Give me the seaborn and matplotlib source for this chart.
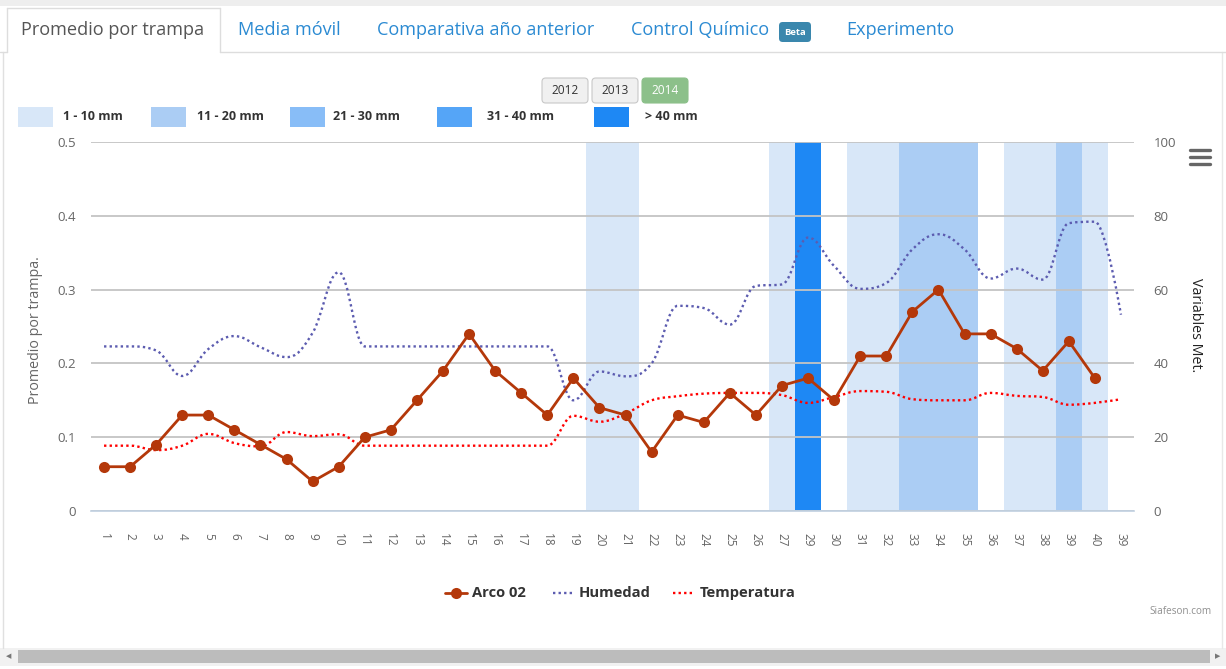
import numpy as np
import pandas as pd
import matplotlib
matplotlib.use("Agg")
import matplotlib.pyplot as plt
import seaborn as sns
from matplotlib.path import Path
from matplotlib.patches import PathPatch, Rectangle, FancyBboxPatch
from matplotlib.lines import Line2D

# ---------------- data ----------------
semanas = [str(i) for i in range(1, 28)] + [str(i) for i in range(29, 41)] + ["39"]

arco02 = [0.06, 0.06, 0.09, 0.13, 0.13, 0.11, 0.09, 0.07, 0.04, 0.06,
          0.10, 0.11, 0.15, 0.19, 0.24, 0.19, 0.16, 0.13, 0.18, 0.14,
          0.13, 0.08, 0.13, 0.12, 0.16, 0.13, 0.17, 0.18, 0.15, 0.21,
          0.21, 0.27, 0.30, 0.24, 0.24, 0.22, 0.19, 0.23, 0.18, np.nan]

humedad = [44.6, 44.6, 43.5, 36.6, 43.9, 47.4, 44.4, 41.7, 48.3, 64.7,
           44.6, 44.6, 44.6, 44.6, 44.6, 44.6, 44.6, 44.6, 30.0, 37.8,
           36.5, 40.0, 55.6, 55.0, 50.5, 61.0, 61.4, 74.1, 66.4, 60.2,
           61.8, 70.9, 75.0, 70.9, 63.0, 65.7, 62.7, 78.0, 78.4, 53.2]

temperatura = [17.7, 17.7, 16.5, 17.7, 20.9, 18.4, 17.5, 21.4, 20.3, 20.8,
               17.7, 17.7, 17.7, 17.7, 17.7, 17.7, 17.7, 17.7, 25.8, 24.2,
               26.4, 30.0, 31.1, 31.8, 32.0, 32.0, 31.4, 29.3, 30.9, 32.5,
               32.3, 30.3, 30.0, 30.0, 32.0, 31.2, 30.9, 28.8, 29.3, 30.3]

rangos_lluvia = ["1 - 10 mm", "11 - 20 mm", "21 - 30 mm", "31 - 40 mm", "> 40 mm"]
colores_lluvia = ["#d8e7f8", "#abcdf4", "#88bdf7", "#55a5f7", "#1e88f4"]
# rain class per week ('' = no rain)
lluvia = ["", "", "", "", "", "", "", "", "", "",
          "", "", "", "", "", "", "", "", "", "1 - 10 mm",
          "1 - 10 mm", "", "", "", "", "", "1 - 10 mm", "> 40 mm", "", "1 - 10 mm",
          "1 - 10 mm", "11 - 20 mm", "11 - 20 mm", "11 - 20 mm", "", "1 - 10 mm", "1 - 10 mm", "11 - 20 mm", "1 - 10 mm", ""]

anios = ["2012", "2013", "2014"]
pestanas = ["Promedio por trampa", "Media móvil", "Comparativa año anterior", "Control Químico", "Experimento"]

# ---------------- style ----------------
sns.set_style("white")
plt.rcParams["font.family"] = ["Open Sans", "DejaVu Sans"]

W, H = 1226, 669
def fx(x): return x / W
def fy(y): return 1 - y / H

fig = plt.figure(figsize=(W / 100, H / 100), dpi=100)

rect = [fx(91), fy(511), (1134 - 91) / W, (511 - 142) / H]
ax_r = fig.add_axes(rect)
ax_l = fig.add_axes(rect, sharex=ax_r)
ax_l.patch.set_visible(False)

n = len(semanas)
xs = np.arange(n)
ax_r.set_xlim(-0.5, n - 0.5)
ax_r.set_ylim(0, 100)
ax_l.set_ylim(0, 0.5)

# rain bands
for i, cls in enumerate(lluvia):
    if cls:
        ax_r.axvspan(i - 0.5, i + 0.5, color=colores_lluvia[rangos_lluvia.index(cls)],
                     lw=0, zorder=0.2)

# grid
ax_r.set_axisbelow(True)
ax_r.yaxis.grid(True, color="#c4c4c4", lw=1.3)
ax_r.xaxis.grid(False)

# Highcharts-like spline
def spline_path(xv, yv, smoothing=1.5):
    m = len(xv)
    den = smoothing + 1
    lc, rc = [None] * m, [None] * m
    for i in range(m):
        x, y = xv[i], yv[i]
        if 0 < i < m - 1:
            lx, ly = xv[i - 1], yv[i - 1]
            nx, ny = xv[i + 1], yv[i + 1]
            lcx = (smoothing * x + lx) / den; lcy = (smoothing * y + ly) / den
            rcx = (smoothing * x + nx) / den; rcy = (smoothing * y + ny) / den
            corr = ((rcy - lcy) * (rcx - x)) / (rcx - lcx) + y - rcy
            lcy += corr; rcy += corr
            if lcy > ly and lcy > y:
                lcy = max(ly, y); rcy = 2 * y - lcy
            elif lcy < ly and lcy < y:
                lcy = min(ly, y); rcy = 2 * y - lcy
            if rcy > ny and rcy > y:
                rcy = max(ny, y); lcy = 2 * y - rcy
            elif rcy < ny and rcy < y:
                rcy = min(ny, y); lcy = 2 * y - rcy
            lc[i] = (lcx, lcy); rc[i] = (rcx, rcy)
        else:
            lc[i] = (x, y); rc[i] = (x, y)
    verts = [(xv[0], yv[0])]; codes = [Path.MOVETO]
    for i in range(1, m):
        verts += [rc[i - 1], lc[i], (xv[i], yv[i])]
        codes += [Path.CURVE4] * 3
    return Path(verts, codes)

col_hum = "#5c5cb0"
col_temp = "#ff0000"
col_arco = "#b4380a"
dot = (0, (1.0, 1.35))

ax_r.add_patch(PathPatch(spline_path(xs, humedad), fill=False, edgecolor=col_hum,
                         lw=1.7, linestyle=dot, capstyle="butt", zorder=2))
ax_r.add_patch(PathPatch(spline_path(xs, temperatura), fill=False, edgecolor=col_temp,
                         lw=1.7, linestyle=dot, capstyle="butt", zorder=2))

df = pd.DataFrame({"x": xs, "arco": arco02}).dropna()
sns.lineplot(data=df, x="x", y="arco", ax=ax_l, color=col_arco, lw=2.0,
             marker="o", markersize=8, markeredgewidth=0, zorder=5, legend=False)

# axes cosmetics
for a in (ax_r, ax_l):
    for s in a.spines.values():
        s.set_visible(False)
ax_r.spines["bottom"].set_visible(True)
ax_r.spines["bottom"].set_color("#c0d0e0")
ax_r.spines["bottom"].set_linewidth(1.2)

ax_r.set_xticks(xs)
ax_r.set_xticklabels(semanas, rotation=-90, fontsize=8.5, color="#666666")
ax_r.tick_params(axis="x", which="major", length=0, pad=16)
ax_r.set_xticks(np.arange(-0.5, n, 1.0), minor=True)
ax_r.tick_params(axis="x", which="minor", length=7.5, width=1, color="#c0d0e0", direction="out")
plt.setp(ax_l.get_xticklabels(), visible=False)
ax_l.tick_params(axis="x", length=0)

ax_r.yaxis.tick_right()
ax_r.set_yticks([0, 20, 40, 60, 80, 100])
ax_r.set_yticklabels(["0", "20", "40", "60", "80", "100"], fontsize=9.5, color="#666666")
ax_r.tick_params(axis="y", length=0, pad=14)

ax_l.yaxis.tick_left()
ax_l.set_yticks([0, 0.1, 0.2, 0.3, 0.4, 0.5])
ax_l.set_yticklabels(["0", "0.1", "0.2", "0.3", "0.4", "0.5"], fontsize=9.5, color="#666666")
ax_l.tick_params(axis="y", length=0, pad=11)
ax_l.set_xlabel(""); ax_l.set_ylabel(""); ax_r.set_ylabel(""); ax_r.set_xlabel("")

fig.text(fx(36), fy(330), "Promedio por trampa.", rotation=90, ha="center", va="center",
         fontsize=10.3, color="#666666")
fig.text(fx(1195), fy(325), "Variables Met.", rotation=-90, ha="center", va="center",
         fontsize=10.3, color="#222222")

# ---------------- page decorations ----------------
fig.add_artist(Rectangle((0, fy(6)), 1, 6 / H, transform=fig.transFigure,
                         facecolor="#eeeeee", edgecolor="none"))
def hline(x0, x1, y, c="#dddddd", lw=1.0):
    fig.add_artist(Line2D([fx(x0), fx(x1)], [fy(y), fy(y)], color=c, lw=lw))
def vline(x, y0, y1, c="#dddddd", lw=1.0):
    fig.add_artist(Line2D([fx(x), fx(x)], [fy(y0), fy(y1)], color=c, lw=lw))

vline(3, 52, 648, c="#e0e0e0")
vline(1222, 52, 648, c="#e8e8e8")
hline(7, 220, 8)
vline(7, 8, 52)
vline(220, 8, 52)
hline(220, 1226, 52)
hline(0, 7, 52)

tab_x = [21, 238, 377, 631, 846]
for i, (t, x) in enumerate(zip(pestanas, tab_x)):
    fig.text(fx(x), fy(30), t, ha="left", va="center", fontsize=13.1,
             color="#555555" if i == 0 else "#2b8ad2")
fig.add_artist(FancyBboxPatch((fx(779), fy(42)), 32 / W, 20 / H,
                              boxstyle="round,pad=0,rounding_size=0.003", mutation_aspect=W / H,
                              transform=fig.transFigure, facecolor="#3a87ad", edgecolor="none"))
fig.text(fx(795), fy(32.5), "Beta", ha="center", va="center", fontsize=6.8,
         color="white", fontweight="bold")

# year buttons
for yr, x0 in zip(anios, [542, 592, 642]):
    active = yr == "2014"
    fig.add_artist(FancyBboxPatch((fx(x0), fy(103)), 46 / W, 25 / H,
                                  boxstyle="round,pad=0,rounding_size=0.003", mutation_aspect=W / H,
                                  transform=fig.transFigure,
                                  facecolor="#8cc08a" if active else "#f0f0f0",
                                  edgecolor="#8cc08a" if active else "#c8c8c8", lw=0.8))
    fig.text(fx(x0 + 23), fy(90.5), yr, ha="center", va="center", fontsize=8.6,
             color="white" if active else "#333333")

# rain legend
box_x = [18, 151, 290, 437, 594]
lab_x = [63, 197, 333, 487, 645]
for lab, c, bx, lx in zip(rangos_lluvia, colores_lluvia, box_x, lab_x):
    fig.add_artist(Rectangle((fx(bx), fy(127)), 35 / W, 20 / H, transform=fig.transFigure,
                             facecolor=c, edgecolor="none"))
    fig.text(fx(lx), fy(117), lab, ha="left", va="center", fontsize=9.0,
             fontweight="bold", color="#333333")

# hamburger
for yy in [150, 157, 163.5]:
    hline(1190, 1210, yy, c="#666666", lw=2.4)

# bottom legend
fig.add_artist(Line2D([fx(445), fx(467)], [fy(593), fy(593)], color=col_arco, lw=2.0,
                      transform=fig.transFigure))
fig.add_artist(Line2D([fx(456)], [fy(593)], color=col_arco, marker="o", markersize=8,
                      markeredgewidth=0, lw=0, transform=fig.transFigure))
fig.text(fx(472), fy(593), "Arco 02", ha="left", va="center", fontsize=10.6,
         fontweight="bold", color="#333333")
fig.add_artist(Line2D([fx(553), fx(574)], [fy(593), fy(593)], color=col_hum, lw=1.7,
                      linestyle=dot, transform=fig.transFigure))
fig.text(fx(579), fy(593), "Humedad", ha="left", va="center", fontsize=10.6,
         fontweight="bold", color="#333333")
fig.add_artist(Line2D([fx(673), fx(694)], [fy(593), fy(593)], color=col_temp, lw=1.7,
                      linestyle=dot, transform=fig.transFigure))
fig.text(fx(700), fy(593), "Temperatura", ha="left", va="center", fontsize=10.6,
         fontweight="bold", color="#333333")

fig.text(fx(1212), fy(611), "Siafeson.com", ha="right", va="center", fontsize=7.2,
         color="#909090")

# scrollbar
fig.add_artist(Rectangle((0, fy(666)), 1, 18 / H, transform=fig.transFigure,
                         facecolor="#f1f1f1", edgecolor="none"))
fig.add_artist(Rectangle((fx(18), fy(663)), (1210 - 18) / W, 13 / H, transform=fig.transFigure,
                         facecolor="#bcbcbc", edgecolor="none"))
fig.text(fx(9), fy(656), "◀", ha="center", va="center", fontsize=5, color="#777777",
         family=["DejaVu Sans"])
fig.text(fx(1218), fy(656), "▶", ha="center", va="center", fontsize=5, color="#777777",
         family=["DejaVu Sans"])

fig.savefig("out.png", dpi=100)
